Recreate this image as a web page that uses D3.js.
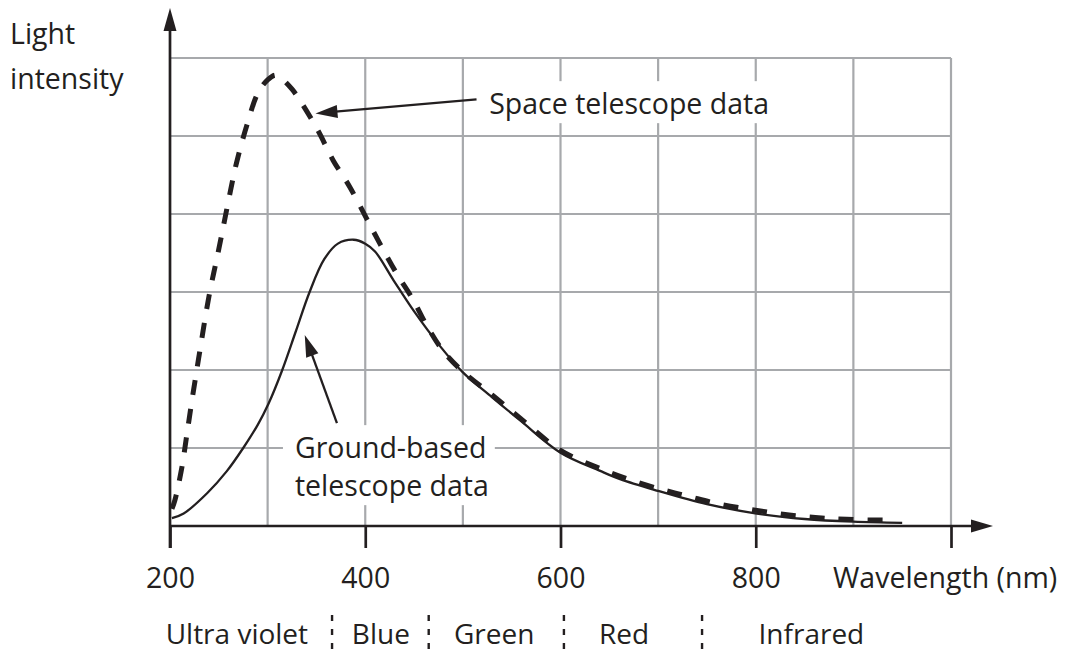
<!DOCTYPE html>
<html>
<head>
<meta charset="utf-8">
<script src="https://cdn.jsdelivr.net/npm/d3@7"></script>
<style>
  html, body { margin: 0; padding: 0; background: #ffffff; }
  svg { display: block; }
  text { font-family: "Open Sans", "Noto Sans", sans-serif; fill: #231f20; }
</style>
</head>
<body>
<svg id="chart" width="1067" height="652"></svg>
<script>
// Wavelength (nm) and relative light intensity (grid units) for each spectrum
const spaceWavelength = [202, 205, 212, 217, 222, 230, 240, 250, 262, 268, 279, 290, 300, 308, 314, 325, 335, 352, 367, 384, 401, 415, 432, 449, 463, 480, 500, 530, 559, 600, 640, 667, 700, 731, 763, 796, 828, 861, 893, 935];
const spaceIntensity  = [0.22, 0.33, 0.74, 1.15, 1.57, 2.2, 2.95, 3.55, 4.3, 4.65, 5.15, 5.55, 5.72, 5.78, 5.74, 5.6, 5.42, 5.06, 4.69, 4.35, 3.95, 3.62, 3.24, 2.9, 2.57, 2.24, 1.98, 1.68, 1.38, 0.97, 0.74, 0.61, 0.48, 0.38, 0.28, 0.21, 0.15, 0.11, 0.085, 0.075];

const groundWavelength = [202, 214, 238, 258, 275, 290, 301, 315, 329, 343, 358, 372, 388, 400, 410, 429, 449, 477, 500, 530, 559, 600, 640, 661, 700, 750, 801, 850, 900, 950];
const groundIntensity  = [0.1, 0.16, 0.42, 0.7, 1.0, 1.3, 1.57, 2.0, 2.5, 3.0, 3.42, 3.62, 3.67, 3.62, 3.52, 3.15, 2.77, 2.3, 1.97, 1.65, 1.35, 0.94, 0.71, 0.6, 0.45, 0.28, 0.16, 0.09, 0.055, 0.04];

// Axis ticks and labels
const xTickValues = [200, 400, 600, 800, 1000];
const xTickLabels = ["200", "400", "600", "800", ""];
const xGridValues = [300, 400, 500, 600, 700, 800, 900, 1000];
const yGridValues = [1, 2, 3, 4, 5, 6];

// Spectral bands under the axis (label centres and boundaries, nm)
const bandNames   = ["Ultra violet", "Blue", "Green", "Red", "Infrared"];
const bandCentres = [268.5, 416, 532, 665, 857];
const bandEdges   = [366, 465, 603.5, 745];

const axisTitleX = "Wavelength (nm)";
const axisTitleY = ["Light", "intensity"];

const ink = "#231f20";
const gridColor = "#a7a9ac";
const fontSize = 28.5;

const svg = d3.select("#chart");

const x = d3.scaleLinear().domain([200, 1000]).range([170, 951]);
const y = d3.scaleLinear().domain([0, 6]).range([526, 58]);

// Grid
const grid = svg.append("g").attr("class", "grid");
grid.selectAll("line.v").data(xGridValues).join("line")
  .attr("class", "v")
  .attr("x1", d => x(d)).attr("x2", d => x(d))
  .attr("y1", y(0)).attr("y2", y(6))
  .attr("stroke", gridColor).attr("stroke-width", 2.2);
grid.selectAll("line.h").data(yGridValues).join("line")
  .attr("class", "h")
  .attr("x1", x(200)).attr("x2", x(1000))
  .attr("y1", d => y(d)).attr("y2", d => y(d))
  .attr("stroke", gridColor).attr("stroke-width", 2.2);

// Annotation label boxes sit above the grid and interrupt it
const annotations = svg.append("g").attr("class", "annotations");

function label(lines, wl, val, lineGap) {
  const g = annotations.append("g");
  const t = g.append("text")
    .attr("x", x(wl)).attr("y", y(val))
    .attr("font-size", fontSize);
  lines.forEach((s, i) => {
    t.append("tspan").attr("x", x(wl)).attr("dy", i === 0 ? 0 : lineGap).text(s);
  });
  const b = t.node().getBBox();
  g.insert("rect", "text")
    .attr("x", b.x - 12).attr("y", b.y - 3)
    .attr("width", b.width + 18).attr("height", b.height + 4)
    .attr("fill", "#ffffff");
}

label(["Space telescope data"], 527, 5.28, 0);
label(["Ground-based", "telescope data"], 328, 0.87, 38);

// Axes
const axes = svg.append("g").attr("class", "axes");
const xAxis = d3.axisBottom(x)
  .tickValues(xTickValues)
  .tickSize(22)
  .tickPadding(14)
  .tickFormat((d, i) => xTickLabels[i]);
const xg = axes.append("g").attr("transform", `translate(0,${y(0)})`).call(xAxis);
xg.select(".domain").remove();
xg.selectAll(".tick line").attr("stroke", ink).attr("stroke-width", 2.7);
xg.selectAll(".tick text")
  .attr("font-size", fontSize).attr("font-family", "Open Sans")
  .attr("fill", ink).attr("dy", 0).attr("y", 62);

// x axis line with arrow
axes.append("line")
  .attr("x1", x(200)).attr("x2", 975)
  .attr("y1", y(0)).attr("y2", y(0))
  .attr("stroke", ink).attr("stroke-width", 2.7);
axes.append("path")
  .attr("d", `M993,${y(0)} L971,${y(0) - 6.5} L971,${y(0) + 6.5} Z`)
  .attr("fill", ink);

// y axis line with arrow
axes.append("line")
  .attr("x1", x(200)).attr("x2", x(200))
  .attr("y1", y(0) + 22).attr("y2", 28)
  .attr("stroke", ink).attr("stroke-width", 2.7);
axes.append("path")
  .attr("d", `M${x(200)},8 L${x(200) - 6.5},31 L${x(200) + 6.5},31 Z`)
  .attr("fill", ink);

// Axis titles
svg.append("text").attr("x", 833).attr("y", 588).attr("font-size", fontSize).text(axisTitleX);
svg.append("text").attr("x", 10).attr("y", 44).attr("font-size", fontSize).text(axisTitleY[0]);
svg.append("text").attr("x", 10).attr("y", 89).attr("font-size", fontSize).text(axisTitleY[1]);

// Spectral band row
const bands = svg.append("g").attr("class", "bands");
bands.selectAll("text").data(bandNames).join("text")
  .attr("x", (d, i) => x(bandCentres[i]))
  .attr("y", 644)
  .attr("text-anchor", "middle")
  .attr("font-size", 28)
  .text(d => d);
bands.selectAll("line").data(bandEdges).join("line")
  .attr("x1", d => x(d)).attr("x2", d => x(d))
  .attr("y1", 615).attr("y2", 649)
  .attr("stroke", ink).attr("stroke-width", 2.4)
  .attr("stroke-dasharray", "6,8");

// Curves
const line = d3.line()
  .x(d => x(d[0]))
  .y(d => y(d[1]))
  .curve(d3.curveCatmullRom.alpha(0.5));

const spaceData = spaceWavelength.map((w, i) => [w, spaceIntensity[i]]);
const groundData = groundWavelength.map((w, i) => [w, groundIntensity[i]]);

svg.append("path")
  .datum(groundData)
  .attr("d", line)
  .attr("fill", "none")
  .attr("stroke", ink)
  .attr("stroke-width", 2.3);

svg.append("path")
  .datum(spaceData)
  .attr("d", line)
  .attr("fill", "none")
  .attr("stroke", ink)
  .attr("stroke-width", 5)
  .attr("stroke-dasharray", "15,14");

// Pointer arrows from the labels to the curves (data coordinates)
const pointers = [
  { from: [514, 5.47], to: [349, 5.29] },
  { from: [371, 1.32], to: [338, 2.45] }
];
pointers.forEach(p => {
  const x1 = x(p.from[0]), y1 = y(p.from[1]);
  const x2 = x(p.to[0]), y2 = y(p.to[1]);
  const ang = Math.atan2(y2 - y1, x2 - x1);
  const len = 22, hw = 6.5;
  const bx = x2 - len * Math.cos(ang), by = y2 - len * Math.sin(ang);
  svg.append("line")
    .attr("x1", x1).attr("y1", y1).attr("x2", bx + 2 * Math.cos(ang)).attr("y2", by + 2 * Math.sin(ang))
    .attr("stroke", ink).attr("stroke-width", 2.3);
  const px = -Math.sin(ang) * hw, py = Math.cos(ang) * hw;
  svg.append("path")
    .attr("d", `M${x2},${y2} L${bx + px},${by + py} L${bx - px},${by - py} Z`)
    .attr("fill", ink);
});
</script>
</body>
</html>
